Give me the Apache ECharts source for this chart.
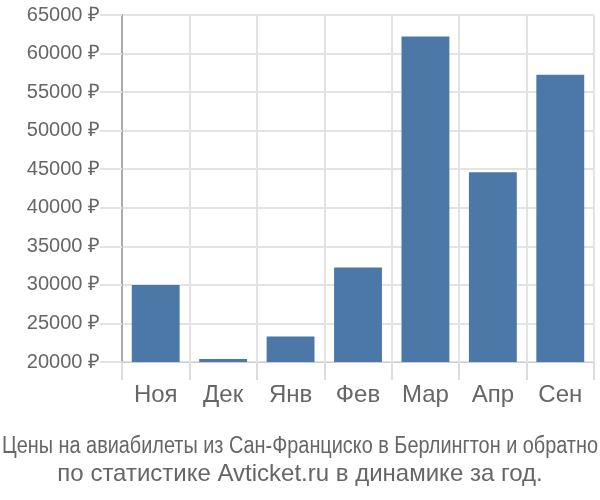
<!DOCTYPE html>
<html><head><meta charset="utf-8">
<script src="https://cdn.jsdelivr.net/npm/echarts@6/dist/echarts.min.js"></script>
<style>html,body{margin:0;padding:0;background:#fff}#c{width:600px;height:500px}</style>
</head><body><div id="c"></div>
<script>
const categories = ['Ноя', 'Дек', 'Янв', 'Фев', 'Мар', 'Апр', 'Сен'];
const prices = [30000, 20400, 23300, 32250, 62200, 44600, 57250];
const yMin = 20000, yMax = 65000, yStep = 5000;
const titleLine1 = 'Цены на авиабилеты из Сан-Франциско в Берлингтон и обратно';
const titleLine2 = 'по статистике Avticket.ru в динамике за год.';

const titleFont1 = '23px "Liberation Sans"';
const titleFont2 = '24px "Liberation Sans"';
const cv = document.createElement('canvas').getContext('2d');
cv.font = titleFont1;
const w1 = cv.measureText(titleLine1).width;
const sx1 = Math.min(1, 596 / w1);

const chart = echarts.init(document.getElementById('c'), null, {renderer: 'canvas'});
chart.setOption({
  animation: false,
  graphic: [
    {type: 'text', x: 300, y: 447, scaleX: sx1, style: {text: titleLine1, font: titleFont1, fill: '#666', align: 'center', verticalAlign: 'middle'}},
    {type: 'text', x: 300, y: 474, style: {text: titleLine2, font: titleFont2, fill: '#666', align: 'center', verticalAlign: 'middle'}}
  ],
  grid: {left: 122, right: 6, top: 15, bottom: 138, containLabel: false},
  xAxis: {
    type: 'category', data: categories, boundaryGap: true,
    axisLine: {show: true, lineStyle: {color: '#ccc', width: 1}},
    axisTick: {show: true, length: 18, interval: 0, lineStyle: {color: '#ddd', width: 2}},
    splitLine: {show: true, interval: 0, lineStyle: {color: '#e3e3e3', width: 2}},
    axisLabel: {margin: 21, fontFamily: 'Liberation Sans', fontSize: 24, color: '#666', interval: 0}
  },
  yAxis: {
    type: 'value', min: yMin, max: yMax, interval: yStep,
    axisLine: {show: true, lineStyle: {color: '#aaa', width: 2}},
    axisTick: {show: true, length: 22, lineStyle: {color: '#e3e3e3', width: 2}},
    splitLine: {show: true, lineStyle: {color: '#e3e3e3', width: 2}},
    axisLabel: {margin: 22, fontFamily: 'Liberation Sans', fontSize: 20, color: '#666', formatter: function (v) { return v + ' ₽'; }}
  },
  series: [{
    type: 'bar', data: prices, barCategoryGap: '29%',
    itemStyle: {color: '#4c78a8'}
  }]
});
</script></body></html>
